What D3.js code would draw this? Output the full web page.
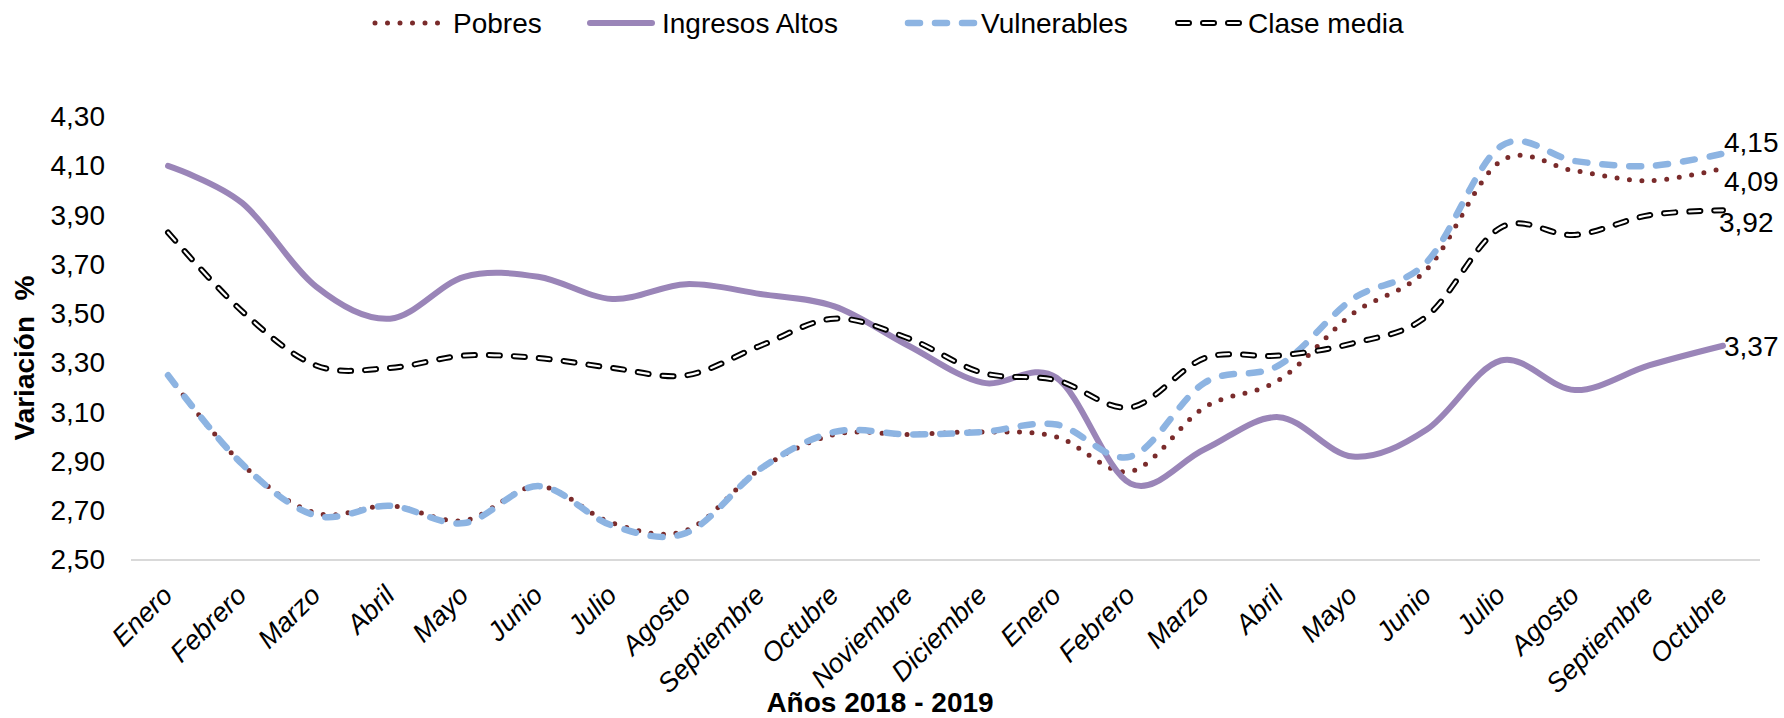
<!DOCTYPE html>
<html><head><meta charset="utf-8">
<script src="https://cdn.jsdelivr.net/npm/d3@7"></script>
<style>
body{margin:0;background:#fff}
svg{display:block}
text{font-family:"Liberation Sans",Arial,Helvetica,sans-serif;fill:#000}
</style>
</head><body>
<svg id="c" width="1784" height="718"></svg>
<script>
// ---- data ----
const categories = ["Enero","Febrero","Marzo","Abril","Mayo","Junio","Julio","Agosto","Septiembre","Octubre","Noviembre","Diciembre",
                    "Enero","Febrero","Marzo","Abril","Mayo","Junio","Julio","Agosto","Septiembre","Octubre"];
const pobres        = [3.25,2.89,2.69,2.72,2.66,2.80,2.65,2.62,2.87,3.01,3.01,3.02,3.00,2.86,3.12,3.23,3.50,3.68,4.12,4.08,4.04,4.09];
const ingresosAltos = [4.10,3.95,3.61,3.48,3.65,3.65,3.56,3.62,3.58,3.53,3.37,3.22,3.24,2.81,2.95,3.08,2.92,3.03,3.31,3.19,3.29,3.37];
const vulnerables   = [3.25,2.89,2.68,2.72,2.65,2.80,2.64,2.61,2.87,3.02,3.01,3.02,3.05,2.92,3.22,3.29,3.56,3.71,4.18,4.12,4.10,4.15];
const claseMedia    = [3.83,3.51,3.29,3.28,3.33,3.32,3.28,3.25,3.37,3.48,3.40,3.26,3.23,3.12,3.32,3.33,3.38,3.49,3.85,3.82,3.90,3.92];
const seriesNames   = ["Pobres","Ingresos Altos","Vulnerables","Clase media"];
const yTicks        = [2.5,2.7,2.9,3.1,3.3,3.5,3.7,3.9,4.1,4.3];
const yTickLabels   = ["2,50","2,70","2,90","3,10","3,30","3,50","3,70","3,90","4,10","4,30"];
const endLabels     = ["4,09","3,37","4,15","3,92"];
const yTitle = "Variación  %";
const xTitle = "Años 2018 - 2019";

// ---- styles / layout ----
const seriesData = [pobres, ingresosAltos, vulnerables, claseMedia];
const styles = [
  {color:"#7a2b2b", width:5,   dash:"0 12.5", cap:"round"},
  {color:"#9a85b8", width:6,   dash:null,     cap:"round"},
  {color:"#8db4e2", width:6.5, dash:"12 15",  cap:"round"},
  {color:"#000000", width:6,   dash:"11 14",  cap:"round", inner:"#ffffff", innerWidth:2.2}
];
const legendX = [375, 590, 908, 1178];
const legendLen = [63, 62, 66, 61];
const legendTextX = [453, 662, 981, 1248];
const labelDy = [12.6, 0, -11.6, 12];
const labelX = [1724, 1724, 1724, 1719];

const svg = d3.select("#c");
const x = d3.scaleBand().domain(d3.range(categories.length)).range([131,1760]);
const y = d3.scaleLinear().domain([2.5,4.3]).range([560,116.7]);
const cx = i => x(i) + x.bandwidth()/2;

// baseline gridline
svg.append("line").attr("x1",131).attr("x2",1760).attr("y1",y(2.5)).attr("y2",y(2.5))
   .attr("stroke","#d9d9d9").attr("stroke-width",2);

// y axis
const yAxis = svg.append("g").attr("transform","translate(131,0)")
  .call(d3.axisLeft(y).tickValues(yTicks).tickSize(0).tickPadding(26)
        .tickFormat((d,i)=>yTickLabels[i]));
yAxis.select(".domain").remove();
yAxis.selectAll("text").style("font-size","28px").attr("fill","#000")
     .style("font-family",'"Liberation Sans",Arial,sans-serif');

// x axis
const xAxis = svg.append("g").attr("transform",`translate(0,${y(2.5)})`)
  .call(d3.axisBottom(x).tickSize(0).tickFormat(i=>categories[i]));
xAxis.select(".domain").remove();
xAxis.selectAll("text")
  .attr("x",0).attr("y",0).attr("dy",0)
  .attr("transform","translate(6,37) rotate(-45)")
  .attr("text-anchor","end")
  .style("font-size","27px").style("font-style","italic").attr("fill","#000")
  .style("font-family",'"Liberation Sans",Arial,sans-serif');

// lines
const line = d3.line().x((d,i)=>cx(i)).y(d=>y(d)).curve(d3.curveCardinal.tension(0));
function drawPath(sel, dAttr, s){
  const p = sel.append("path").attr("d",dAttr).attr("fill","none")
    .attr("stroke",s.color).attr("stroke-width",s.width).attr("stroke-linecap",s.cap)
    .attr("stroke-linejoin","round");
  if (s.dash) p.attr("stroke-dasharray",s.dash);
  if (s.inner){
    sel.append("path").attr("d",dAttr).attr("fill","none")
      .attr("stroke",s.inner).attr("stroke-width",s.innerWidth).attr("stroke-linecap",s.cap)
      .attr("stroke-dasharray",s.dash);
  }
}
const plot = svg.append("g");
seriesData.forEach((vals,k)=>{
  drawPath(plot, line(vals), styles[k]);
});

// end labels
seriesData.forEach((vals,k)=>{
  svg.append("text").attr("x",labelX[k]).attr("y",y(vals[vals.length-1])+labelDy[k])
    .attr("dy","0.35em").style("font-size","28px").text(endLabels[k]);
});

// legend
const lg = svg.append("g");
seriesNames.forEach((name,k)=>{
  drawPath(lg, `M${legendX[k]},23H${legendX[k]+legendLen[k]}`, styles[k]);
  lg.append("text").attr("x",legendTextX[k]).attr("y",23).attr("dy","0.35em")
    .style("font-size","28px").text(name);
});

// axis titles
svg.append("text").attr("transform","translate(34,358) rotate(-90)")
  .attr("text-anchor","middle").style("font-size","28px").style("font-weight","bold")
  .style("white-space","pre").text(yTitle);
svg.append("text").attr("x",880).attr("y",712).attr("text-anchor","middle")
  .style("font-size","28px").style("font-weight","bold").text(xTitle);
</script>
</body></html>
